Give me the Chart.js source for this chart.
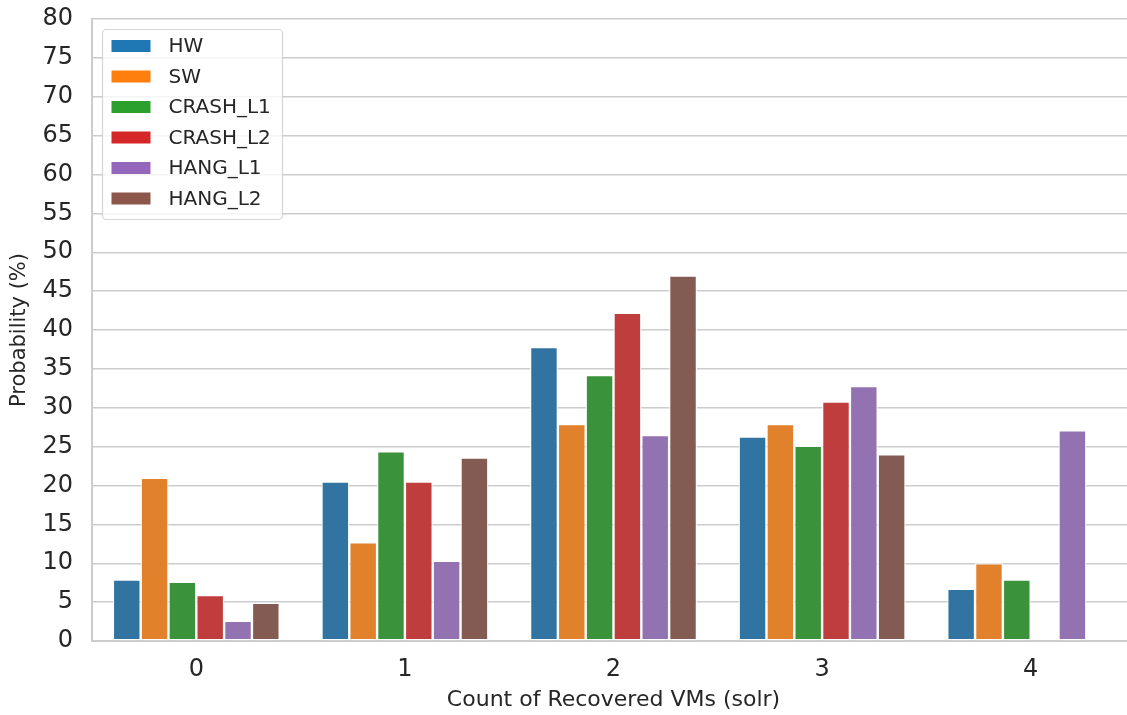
<!DOCTYPE html>
<html>
<head>
<meta charset="utf-8">
<title>Recovered VMs (solr)</title>
<script src="https://cdn.jsdelivr.net/npm/chart.js@4.4.1/dist/chart.umd.min.js"></script>
<style>
  html, body { margin: 0; padding: 0; background: #fff; overflow: hidden; }
  #chart { display: block; }
</style>
</head>
<body>
<canvas id="chart" width="1135" height="715"></canvas>
<script>
// categories on the x axis
const counts = ['0', '1', '2', '3', '4'];

// probability (%) per failure type
const hw      = [7.9, 20.5, 37.8, 26.3, 6.7];
const sw      = [21.0, 12.7, 27.9, 27.9, 10.0];
const crashL1 = [7.6, 24.4, 34.2, 25.1, 7.9];
const crashL2 = [5.9, 20.5, 42.2, 30.8, 0];
const hangL1  = [2.6, 10.3, 26.5, 32.8, 27.1];
const hangL2  = [4.9, 23.6, 47.0, 24.0, 0];

const seriesNames = ['HW', 'SW', 'CRASH_L1', 'CRASH_L2', 'HANG_L1', 'HANG_L2'];
const yTicks = [0, 5, 10, 15, 20, 25, 30, 35, 40, 45, 50, 55, 60, 65, 70, 75, 80];

// seaborn draws bars slightly desaturated, legend patches in full colour
const barColors = ['#3274a1', '#e1812c', '#3a923a', '#c03d3e', '#9372b2', '#845b53'];
const legendColors = ['#1f77b4', '#ff7f0e', '#2ca02c', '#d62728', '#9467bd', '#8c564b'];

const textColor = '#262626';
const gridColor = '#cccccc';
Chart.defaults.font.family = '"DejaVu Sans", sans-serif';
Chart.defaults.color = textColor;

const allSeries = [hw, sw, crashL1, crashL2, hangL1, hangL2];

// legend box drawn inside the plot, top-left, like matplotlib's
const boxLegend = {
  id: 'boxLegend',
  afterDatasetsDraw(chart) {
    const ctx = chart.ctx;
    const area = chart.chartArea;
    const x0 = area.left + 10.5, y0 = area.top + 10.5;
    const w = 180, h = 190;
    ctx.save();
    ctx.beginPath();
    if (ctx.roundRect) ctx.roundRect(x0, y0, w, h, 4);
    else ctx.rect(x0, y0, w, h);
    ctx.fillStyle = 'rgba(255,255,255,0.8)';
    ctx.fill();
    ctx.strokeStyle = 'rgba(204,204,204,0.8)';
    ctx.lineWidth = 1.2;
    ctx.stroke();

    ctx.font = '20px "DejaVu Sans"';
    ctx.textBaseline = 'middle';
    ctx.textAlign = 'left';
    chart.data.datasets.forEach((ds, i) => {
      const cy = y0 + 16.5 + i * 30.5;
      ctx.fillStyle = legendColors[i];
      ctx.fillRect(x0 + 9, cy - 6, 39, 12);
      ctx.fillStyle = textColor;
      ctx.fillText(ds.label, x0 + 66, cy + 1);
    });
    ctx.restore();
  }
};

new Chart(document.getElementById('chart'), {
  type: 'bar',
  data: {
    labels: counts,
    datasets: seriesNames.map((name, i) => ({
      label: name,
      data: allSeries[i],
      backgroundColor: barColors[i],
      borderColor: '#ffffff',
      borderWidth: 1.2,
      borderSkipped: false,
      categoryPercentage: 0.8,
      barPercentage: 1.0
    }))
  },
  options: {
    responsive: false,
    animation: false,
    devicePixelRatio: 1,
    layout: { padding: { top: 19, right: 0, bottom: 0, left: 0 } },
    plugins: {
      legend: { display: false },
      tooltip: { enabled: false }
    },
    scales: {
      x: {
        // invisible tick marks give the gap between spine and labels
        grid: { display: true, drawOnChartArea: false, color: 'transparent',
                drawTicks: true, tickLength: 14, tickColor: 'transparent' },
        border: { display: true, color: gridColor, width: 2 },
        ticks: { font: { size: 24 }, color: textColor, padding: 0 },
        title: {
          display: true,
          text: 'Count of Recovered VMs (solr)',
          font: { size: 22 },
          color: textColor,
          padding: { top: 0, bottom: 2 }
        },
        afterFit: (scale) => { scale.height = 74; }
      },
      y: {
        min: 0,
        max: 80,
        afterBuildTicks: (scale) => { scale.ticks = yTicks.map(v => ({ value: v })); },
        grid: { color: gridColor, lineWidth: 1.5, drawTicks: true,
                tickLength: 19, tickColor: 'transparent' },
        border: { display: true, color: gridColor, width: 2 },
        ticks: { font: { size: 24 }, color: textColor, padding: 0 },
        title: {
          display: true,
          text: 'Probability (%)',
          font: { size: 21 },
          color: textColor,
          padding: { top: 7, bottom: 0 }
        },
        afterFit: (scale) => { scale.width = 92; }
      }
    }
  },
  plugins: [boxLegend]
});
</script>
</body>
</html>
